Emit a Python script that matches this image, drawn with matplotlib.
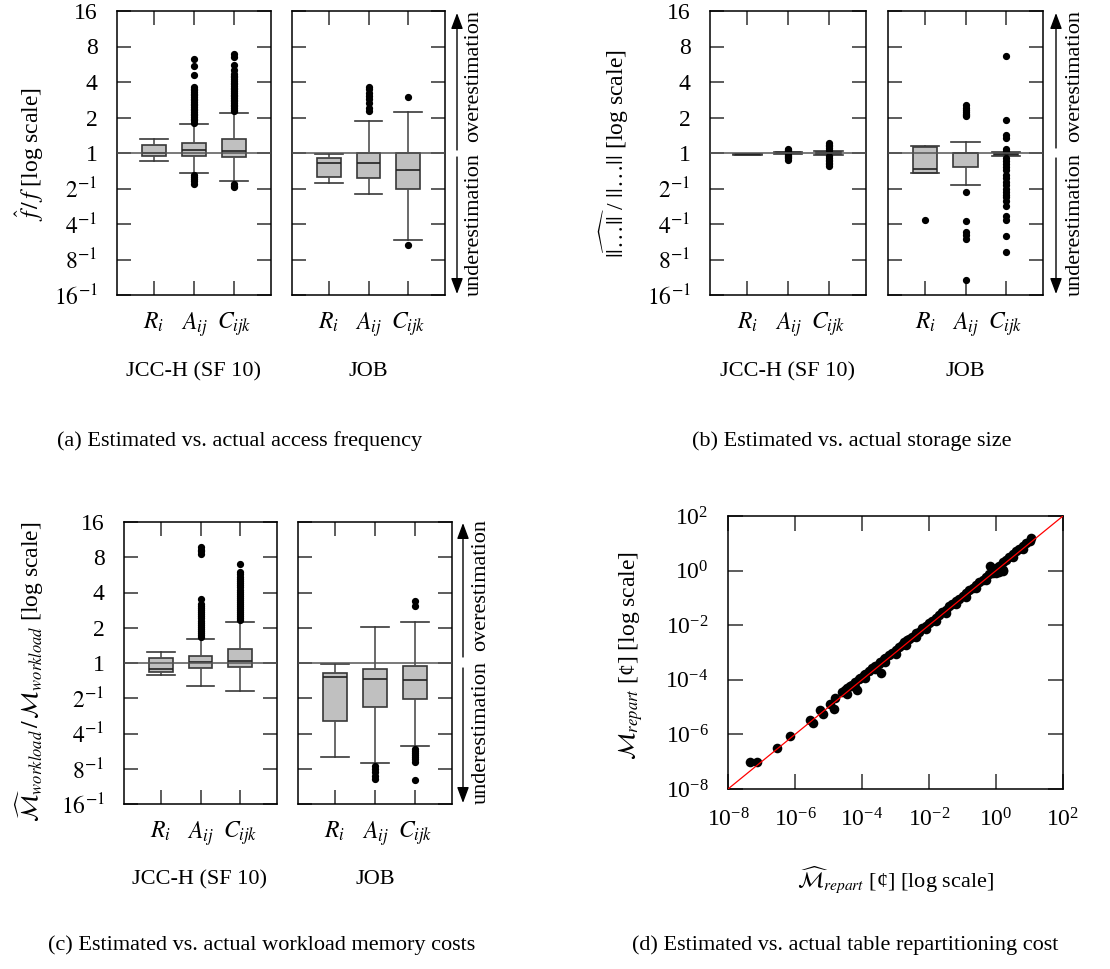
import matplotlib
matplotlib.use("Agg")
import matplotlib.pyplot as plt
from matplotlib.patches import FancyArrowPatch
from matplotlib.ticker import NullLocator

plt.rcParams["font.family"] = ["Liberation Serif", "DejaVu Serif"]
plt.rcParams["mathtext.fontset"] = "stix"
FS = 16

W, H = 1110, 969

# ---- data -------------------------------------------------------------
categories = [r"$R_i$", r"$A_{ij}$", r"$C_{ijk}$"]
groups = ["JCC-H (SF 10)", "JOB"]
ytick_vals = [1 / 16, 1 / 8, 1 / 4, 1 / 2, 1, 2, 4, 8, 16]
ytick_labels = [r"$16^{-1}$", r"$8^{-1}$", r"$4^{-1}$", r"$2^{-1}$", "1", "2", "4", "8", "16"]

# (a) access frequency: [q1, med, q3, whislo, whishi]
freq_jcch = [[0.943, 1.0, 1.18, 0.855, 1.32],
             [0.949, 1.053, 1.215, 0.681, 1.76],
             [0.925, 1.047, 1.31, 0.58, 2.20]]
freq_jcch_fliers = [
    [],
    [1.80, 1.89, 1.95, 2.02, 2.09, 2.16, 2.23, 2.30, 2.38, 2.46, 2.54, 2.62, 2.71,
     2.80, 2.89, 2.98, 3.08, 3.18, 3.29, 3.40, 3.51, 3.63, 4.62, 5.43, 6.23,
     0.646, 0.62, 0.60, 0.575, 0.55],
    [2.25, 2.32, 2.40, 2.48, 2.56, 2.65, 2.74, 2.83, 2.93, 3.03, 3.13, 3.24, 3.35,
     3.46, 3.58, 3.70, 3.83, 3.96, 4.09, 4.23, 4.37, 4.52, 4.70, 5.02, 5.54, 6.5,
     6.96, 0.55, 0.53, 0.515],
]
freq_job = [[0.622, 0.828, 0.907, 0.557, 0.98],
            [0.61, 0.82, 1.0, 0.45, 1.87],
            [0.5, 0.717, 1.0, 0.183, 2.24]]
freq_job_fliers = [
    [],
    [2.27, 2.42, 2.67, 2.85, 3.04, 3.25, 3.47, 3.65],
    [3.0, 0.166],
]

# (b) storage size
size_jcch = [[0.965, 0.98, 0.99, 0.965, 0.99],
             [0.995, 1.0, 1.01, 0.99, 1.02],
             [0.985, 1.0, 1.02, 0.96, 1.05]]
size_jcch_fliers = [
    [],
    [1.08, 1.06, 1.04, 0.96, 0.94, 0.92, 0.90, 0.88],
    [1.22, 1.18, 1.14, 1.10, 1.07, 0.94, 0.91, 0.88, 0.85, 0.82, 0.80, 0.78],
]
size_job = [[0.672, 0.736, 1.13, 0.672, 1.147],
            [0.761, 1.0, 1.0, 0.532, 1.25],
            [0.96, 0.98, 1.0, 0.95, 1.02]]
size_job_fliers = [
    [0.27],
    [2.54, 2.43, 2.33, 2.24, 2.16, 2.1, 2.06, 0.464, 0.267, 0.214, 0.2, 0.188, 0.084],
    [6.64, 1.9, 1.41, 1.34, 1.09, 1.04, 0.913, 0.86, 0.81, 0.76, 0.72, 0.65, 0.61,
     0.57, 0.54, 0.50, 0.47, 0.44, 0.42, 0.39, 0.356, 0.292, 0.27, 0.198, 0.145],
]

# (c) workload memory costs
mem_jcch = [[0.844, 0.889, 1.096, 0.795, 1.24],
            [0.90, 1.013, 1.14, 0.637, 1.61],
            [0.918, 1.047, 1.31, 0.581, 2.22]]
mem_jcch_fliers = [
    [],
    [1.67, 1.74, 1.81, 1.88, 1.96, 2.04, 2.12, 2.21, 2.30, 2.40, 2.50, 2.60, 2.71,
     2.82, 2.94, 3.07, 3.2, 3.54, 8.6, 9.0, 9.3, 9.7],
    [2.31, 2.40, 2.50, 2.60, 2.71, 2.82, 2.94, 3.06, 3.19, 3.32, 3.46, 3.60, 3.75,
     3.91, 4.07, 4.24, 4.42, 4.60, 4.80, 5.0, 5.2, 5.45, 5.7, 5.97, 7.03],
]
mem_job = [[0.322, 0.765, 0.822, 0.157, 0.98],
           [0.424, 0.726, 0.883, 0.14, 2.01],
           [0.496, 0.721, 0.937, 0.194, 2.25]]
mem_job_fliers = [
    [],
    [0.133, 0.125, 0.117, 0.109, 0.102],
    [3.4, 3.04, 0.186, 0.178, 0.171, 0.164, 0.157, 0.15, 0.142, 0.1],
]

# (d) repartitioning cost, log10 exponents (estimated, actual)
rep_est_exp = [-7.35, -7.13, -6.53, -6.14, -5.56, -5.45, -5.25, -5.17, -4.97, -4.85,
               -4.8, -4.46, -4.16, -3.42, -0.18, 0.21,
               -4.6, -4.5, -4.45, -4.35, -4.3, -4.2, -4.1, -4.05, -3.95, -3.9, -3.8,
               -3.7, -3.6, -3.5, -3.45, -3.35, -3.3, -3.2, -3.1, -3.0, -2.9, -2.8,
               -2.75, -2.65, -2.6, -2.5, -2.4, -2.3, -2.2, -2.1, -2.0, -1.9, -1.8,
               -1.7, -1.6, -1.5, -1.4, -1.3, -1.2, -1.1, -1.0, -0.9, -0.8, -0.7,
               -0.6, -0.5, -0.4, -0.3, -0.2, -0.1, 0.0, 0.1, 0.2, 0.3, 0.4, 0.5,
               0.6, 0.7, 0.8, 0.9, 1.0, 1.05,
               -4.2, -3.9, -3.6, -3.3, -3.0, -2.7, -2.4, -2.1, -1.8, -1.5, -1.2,
               -0.9, -0.6, -0.3, -0.1, 0.0, 0.1, 0.2, 0.5, 0.8]
rep_act_exp = [-7.01, -7.01, -6.5, -6.05, -5.46, -5.59, -5.12, -5.27, -4.88, -5.07,
               -4.67, -4.51, -4.37, -3.76, 0.16, 0.04,
               -4.45, -4.38, -4.3, -4.22, -4.2, -4.08, -3.98, -3.95, -3.82, -3.8, -3.68,
               -3.58, -3.5, -3.42, -3.35, -3.25, -3.2, -3.1, -3.02, -2.9, -2.8, -2.72,
               -2.62, -2.55, -2.52, -2.42, -2.3, -2.24, -2.1, -2.02, -1.93, -1.84, -1.72,
               -1.63, -1.52, -1.43, -1.31, -1.24, -1.12, -1.03, -0.93, -0.83, -0.72, -0.63,
               -0.53, -0.43, -0.33, -0.22, -0.12, -0.03, 0.08, 0.18, 0.3, 0.4, 0.5, 0.6,
               0.7, 0.8, 0.9, 1.0, 1.1, 1.18,
               -4.25, -3.95, -3.62, -3.35, -3.05, -2.74, -2.45, -2.15, -1.84, -1.55, -1.24,
               -0.95, -0.64, -0.34, -0.1, -0.08, -0.04, 0.0, 0.5, 0.8]
rep_ticks = [1e-8, 1e-6, 1e-4, 1e-2, 1e0, 1e2]


# ---- helpers ----------------------------------------------------------
def fx(x):
    return x / W


def fy(y):
    return 1 - y / H


def px_axes(fig, x0, y0, x1, y1):
    return fig.add_axes([fx(x0), fy(y1), (x1 - x0) / W, (y1 - y0) / H])


def box_stats(rows, fliers):
    stats = []
    for (q1, med, q3, lo, hi), fl in zip(rows, fliers):
        stats.append(dict(q1=q1, med=med, q3=q3, whislo=lo, whishi=hi, fliers=fl))
    return stats


def box_panel(ax, rows, fliers, show_ylabels):
    ax.set_yscale("log", base=2)
    ax.set_ylim(1 / 16, 16)
    ax.set_xlim(0.075, 3.925)
    ax.axhline(1, color="#555555", lw=1.1, zorder=4)
    ax.bxp(
        box_stats(rows, fliers),
        positions=[1, 2, 3],
        widths=0.6,
        capwidths=0.7,
        patch_artist=True,
        boxprops=dict(facecolor="#c0c0c0", edgecolor="#383838", linewidth=1.2),
        whiskerprops=dict(color="#505050", linewidth=1.2),
        capprops=dict(color="#383838", linewidth=1.2),
        medianprops=dict(color="#222222", linewidth=1.2),
        flierprops=dict(marker="o", markerfacecolor="black", markeredgecolor="black",
                        markersize=4.2, linestyle="none"),
    )
    ax.set_yticks(ytick_vals)
    ax.yaxis.set_minor_locator(NullLocator())
    ax.set_yticklabels(ytick_labels if show_ylabels else [])
    ax.set_xticks([1, 2, 3])
    ax.set_xticklabels(categories)
    ax.tick_params(direction="in", length=10, width=1.1, color="#303030",
                   top=True, right=True, labelsize=FS + 1, pad=14)
    ax.tick_params(axis="x", pad=11)
    for s in ax.spines.values():
        s.set_linewidth(1.1)


def arrows(fig, x, y_top, y_mid_hi, y_mid_lo, y_bot, xt, yt_over, yt_under):
    for a, b in [(y_mid_hi, y_top), (y_mid_lo, y_bot)]:
        fig.add_artist(FancyArrowPatch(
            (fx(x), fy(a)), (fx(x), fy(b)), transform=fig.transFigure,
            arrowstyle="-|>,head_length=0.8,head_width=0.3", mutation_scale=12,
            color="black", lw=1.0, shrinkA=0, shrinkB=0))
    fig.text(fx(xt), fy(yt_over), "overestimation", rotation=90,
             ha="center", va="center", fontsize=FS)
    fig.text(fx(xt), fy(yt_under), "underestimation", rotation=90,
             ha="center", va="center", fontsize=FS)


fig = plt.figure(figsize=(W / 100, H / 100), dpi=100)

# (a)
ax = px_axes(fig, 117, 11, 271, 295)
box_panel(ax, freq_jcch, freq_jcch_fliers, True)
ax = px_axes(fig, 292, 11, 445, 295)
box_panel(ax, freq_job, freq_job_fliers, False)
arrows(fig, 457, 13, 150, 157, 294, 474, 76, 224)
fig.text(fx(30), fy(154), r"$\widehat{f}\,/\,f$ [log scale]", rotation=90,
         ha="center", va="center", fontsize=FS + 1)
fig.text(fx(194), fy(372), groups[0], ha="center", va="center", fontsize=FS)
fig.text(fx(368), fy(372), groups[1], ha="center", va="center", fontsize=FS)
fig.text(fx(240), fy(441), "(a) Estimated vs. actual access frequency",
         ha="center", va="center", fontsize=FS)

# (b)
ax = px_axes(fig, 710, 11, 866, 295)
box_panel(ax, size_jcch, size_jcch_fliers, True)
ax = px_axes(fig, 888, 11, 1043, 295)
box_panel(ax, size_job, size_job_fliers, False)
arrows(fig, 1056, 13, 148, 158, 294, 1075, 76, 224)
fig.text(fx(614), fy(154), r"$\widehat{||\ldots||}$ / $||\ldots||$ [log scale]",
         rotation=90, ha="center", va="center", fontsize=FS + 1)
fig.text(fx(788), fy(372), groups[0], ha="center", va="center", fontsize=FS)
fig.text(fx(965), fy(372), groups[1], ha="center", va="center", fontsize=FS)
fig.text(fx(852), fy(441), "(b) Estimated vs. actual storage size",
         ha="center", va="center", fontsize=FS)

# (c)
ax = px_axes(fig, 124, 522, 277, 804)
box_panel(ax, mem_jcch, mem_jcch_fliers, True)
ax = px_axes(fig, 298, 522, 452, 804)
box_panel(ax, mem_job, mem_job_fliers, False)
arrows(fig, 463, 523, 657, 668, 803, 481, 585, 733)
fig.text(fx(30), fy(672),
         r"$\widehat{\mathcal{M}}_{workload}\,/\,\mathcal{M}_{workload}$ [log scale]",
         rotation=90, ha="center", va="center", fontsize=FS + 1)
fig.text(fx(200), fy(880), groups[0], ha="center", va="center", fontsize=FS)
fig.text(fx(375), fy(880), groups[1], ha="center", va="center", fontsize=FS)
fig.text(fx(262), fy(945), "(c) Estimated vs. actual workload memory costs",
         ha="center", va="center", fontsize=FS)

# (d)
ax = px_axes(fig, 728, 516, 1063, 789)
ax.set_xscale("log")
ax.set_yscale("log")
ax.set_xlim(1e-8, 1e2)
ax.set_ylim(1e-8, 1e2)
ax.scatter([10 ** v for v in rep_est_exp], [10 ** v for v in rep_act_exp],
           s=48, color="black", linewidths=0, zorder=3, clip_on=False)
ax.plot([1e-8, 1e2], [1e-8, 1e2], color="red", lw=0.9, zorder=4)
ax.set_xticks(rep_ticks)
ax.set_yticks(rep_ticks)
ax.xaxis.set_minor_locator(NullLocator())
ax.yaxis.set_minor_locator(NullLocator())
ax.tick_params(direction="in", length=11, width=1.1, color="#303030",
               top=True, right=True, labelsize=FS + 1, pad=14)
for s in ax.spines.values():
    s.set_linewidth(1.1)
fig.text(fx(631), fy(655), r"$\mathcal{M}_{repart}$ [¢] [log scale]", rotation=90,
         ha="center", va="center", fontsize=FS + 1)
fig.text(fx(895), fy(880), r"$\widehat{\mathcal{M}}_{repart}$ [¢] [log scale]",
         ha="center", va="center", fontsize=FS)
fig.text(fx(845), fy(945), "(d) Estimated vs. actual table repartitioning cost",
         ha="center", va="center", fontsize=FS)

fig.savefig("out.png", dpi=100)
